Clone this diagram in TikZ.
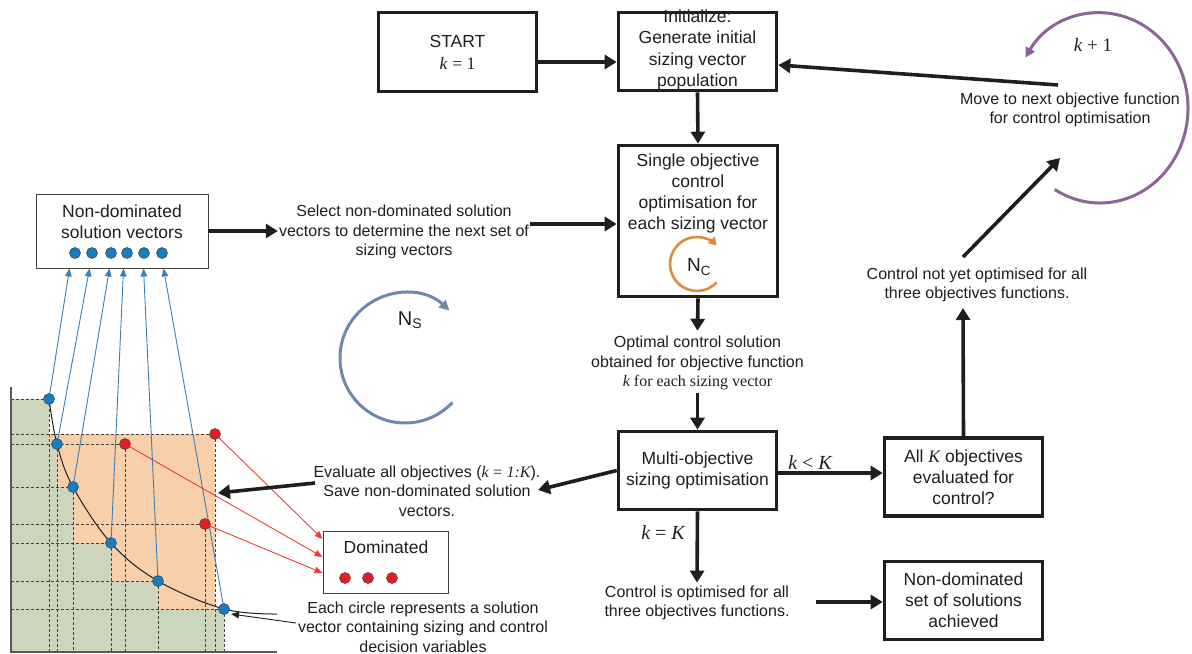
\documentclass[tikz,border=0pt]{standalone}
\usepackage{fontspec}
\setmainfont{Liberation Sans}
\newfontfamily\tnr{Liberation Serif}
\usetikzlibrary{arrows.meta,calc}
\newcommand\mk[1]{{\tnr\itshape #1}}
\newcommand\mr[1]{{\tnr #1}}
\definecolor{dotblue}{RGB}{20,125,195}
\definecolor{lineblue}{RGB}{60,125,180}
\definecolor{dotred}{RGB}{225,30,40}
\definecolor{linered}{RGB}{235,60,60}
\definecolor{greenfill}{RGB}{205,213,188}
\definecolor{orangefill}{RGB}{247,208,170}
\definecolor{loopor}{RGB}{218,140,60}
\definecolor{loopbl}{RGB}{110,135,170}
\definecolor{looppu}{RGB}{140,100,150}
\definecolor{ink}{RGB}{30,30,30}
\begin{document}
\begin{tikzpicture}[x=1bp,y=-1bp,
 box/.style={draw=ink,line width=3.6bp,minimum width=158bp,minimum height=78bp,inner sep=2bp,align=center,text=ink,font=\fontsize{17.5bp}{21bp}\selectfont},
 boxtext/.style={align=center,inner sep=0pt,text=ink,font=\fontsize{17.5bp}{21.5bp}\selectfont},
 thinbox/.style={draw=black!75,line width=0.9bp},
 note/.style={align=center,inner sep=1bp,text=ink,font=\fontsize{16bp}{19.5bp}\selectfont},
 arr/.style={draw=ink,line width=3.6bp,-{Triangle[length=12bp,width=14bp]}},
 barr/.style={draw=lineblue,line width=0.9bp,-{Triangle[length=8bp,width=6.5bp]}},
 rarr/.style={draw=linered,line width=0.9bp,-{Triangle[length=8bp,width=6.5bp]}},
 karr/.style={draw=ink,line width=0.9bp,-{Triangle[length=8bp,width=6.5bp]}},
 bdot/.style={circle,fill=dotblue,draw=black!70,line width=0.6bp,inner sep=0pt,minimum size=11bp},
 rdot/.style={circle,fill=dotred,draw=black!70,line width=0.6bp,inner sep=0pt,minimum size=11bp},
 gridline/.style={draw=black!75,dash pattern=on 3bp off 2bp,line width=0.8bp},
 looparr/.style={line width=3bp,-{Triangle[length=10bp,width=10bp]}},
 mathlbl/.style={inner sep=0pt,text=ink,font=\tnr\fontsize{20bp}{20bp}\selectfont},
]
\useasboundingbox (0,0) rectangle (1192,654);

% ---------- chart ----------
\fill[orangefill] (49,434) rectangle (215,609);
\foreach \x/\y in {49/399,57/444,73/487,111/543,158/581,224/609}
  \fill[greenfill] (11,\y) rectangle (\x,652);
\foreach \x/\y in {49/399,57/444,73/487,111/543,158/581,224/609,125/444,215/434,205/524}{
  \draw[gridline] (11,\y) -- (\x,\y);
  \draw[gridline] (\x,\y) -- (\x,652);
}
\draw[black!65,line width=1.3bp] (11,387) -- (11,652) -- (277,652);
\draw[ink,line width=1bp] plot[smooth,tension=0.6] coordinates {(49,399) (57,444) (73,487) (111,543) (158,581) (224,609) (277,614)};

% boxes of the chart side
\node[thinbox,minimum width=172bp,minimum height=74bp] (nv) at (122,231) {};
\node[boxtext,font=\fontsize{17.5bp}{21bp}\selectfont] (nvtext) at (122,221.5) {Non-dominated\\solution vectors};
\foreach \x [count=\i] in {75,92,111,127,144,162}
  \node[bdot] (v\i) at (\x,253) {};
\node[thinbox,minimum width=125bp,minimum height=62bp] (dom) at (385.5,562) {};
\node[boxtext] (domtext) at (386,547) {Dominated};
\foreach \x [count=\i] in {345,368,392}
  \node[rdot] (d\i) at (\x,578) {};

% arrows from points
\draw[barr] (49,399) -- ($(nv.south west)+(34,0)$);
\draw[barr] (57,444) -- ($(nv.south west)+(54,0)$);
\draw[barr] (73,487) -- ($(nv.south west)+(74,0)$);
\draw[barr] (111,543) -- ($(nv.south west)+(88,0)$);
\draw[barr] (158,581) -- ($(nv.south west)+(108,0)$);
\draw[barr] (224,609) -- ($(nv.south west)+(128,0)$);
\draw[rarr] (215,434) -- ($(dom.west)+(0,-23)$);
\draw[rarr] (125,444) -- ($(dom.west)+(0,-5)$);
\draw[rarr] (205,524) -- ($(dom.west)+(0,11)$);

% points
\node[bdot] (p1) at (49,399) {};
\node[bdot] (p2) at (57,444) {};
\node[bdot] (p3) at (73,487) {};
\node[bdot] (p4) at (111,543) {};
\node[bdot] (p5) at (158,581) {};
\node[bdot] (p6) at (224,609) {};
\node[rdot] (r1) at (125,444) {};
\node[rdot] (r2) at (215,434) {};
\node[rdot] (r3) at (205,524) {};

% ---------- flow boxes ----------
\node[box,minimum height=79bp] (start) at (457.5,52) {START\\[1bp]\mk{k} \mr{= 1}};
\node[box] (init) at (697.5,51.5) {};
\node[boxtext] (inittext) at (697.5,50) {Initialize:\\Generate initial\\sizing vector\\population};
\node[box,minimum width=159bp,minimum height=151bp] (single) at (698,221) {};
\node[boxtext,font=\fontsize{17.5bp}{21bp}\selectfont] (singletext) at (698,193) {Single objective\\control\\optimisation for\\each sizing vector};
\node[box] (multi) at (697.5,470.5) {Multi-objective\\sizing optimisation};
\node[box] (allk) at (963.5,477) {All \mk{K} objectives\\evaluated for\\control?};
\node[box] (nds) at (963.5,600.5) {Non-dominated\\set of solutions\\achieved};

% ---------- notes ----------
\node[note] (sel) at (404,232) {Select non-dominated solution\\vectors to determine the next set of\\sizing vectors};
\node[note] (opt) at (697.5,363) {Optimal control solution\\obtained for objective function\\{\tnr\mk{k} for each sizing vector}};
\node[note] (ev) at (427,491) {Evaluate all objectives (\mk{k} \mr{=} \mk{1:K}).\\Save non-dominated solution\\vectors.};
\node[note] (ec) at (423,627) {Each circle represents a solution\\vector containing sizing and control\\decision variables};
\node[note] (cio) at (697,603) {Control is optimised for all\\three objectives functions.};
\node[note] (cny) at (977,285) {Control not yet optimised for all\\three objectives functions.};
\node[note] (mv) at (1070,110) {Move to next objective function\\for control optimisation};

\node[mathlbl] (klt) at (810,463) {\itshape k \upshape< \itshape K};
\node[mathlbl] (keq) at (663,533) {\itshape k \upshape= \itshape K};
\node[mathlbl,font=\tnr\fontsize{19bp}{19bp}\selectfont] (kp1) at (1093,45) {\itshape k \upshape+ 1};

% loops
\node[inner sep=0pt,text=ink,font=\fontsize{20bp}{20bp}\selectfont] (ns) at (410,320) {N\textsubscript{S}};
\draw[looparr,draw=loopbl] (405,358) ++(43:65) arc[start angle=43,end angle=313,radius=65];
\node[inner sep=0pt,text=ink,font=\fontsize{19bp}{19bp}\selectfont] (nc) at (699,267) {N\textsubscript{C}};
\draw[draw=loopor,line width=2.6bp,-{Triangle[length=8bp,width=9bp]}] (697,264) ++(43:27) arc[start angle=43,end angle=317,radius=27];
\draw[looparr,draw=looppu] (1100,108) ++(121:88 and 95) arc[start angle=121,end angle=-148,x radius=88,y radius=95];

% ---------- connectors ----------
\coordinate (evtip) at (538,490);
\coordinate (evtail) at (315,483);
\coordinate (orng) at (218,493);
\coordinate (mvtail) at (1058,85);
\coordinate (cnytail) at (963,257);
\coordinate (mvtip) at (1060,158);
\coordinate (cnytip) at (963,308);
\coordinate (ciotail) at (816,602);
\coordinate (eclink) at (296,623);
\coordinate (p6tip) at (231,614);

\draw[arr] ([yshift=-10bp]start.east) -- ([yshift=-10bp]start.east -| init.west);
\draw[arr] (init.south) -- (single.north);
\draw[arr] (single.south) -- ([yshift=4bp]opt.north);
\draw[arr] ([yshift=-2bp]opt.south) -- (multi.north);
\draw[arr] ([yshift=-2.5bp]multi.east) -- ([yshift=-2.5bp]multi.east -| allk.west);
\draw[arr] (allk.north) -- (cnytip);
\draw[arr] (cnytail) -- (mvtip);
\draw[arr] (mvtail) -- ([yshift=-13.5bp]init.east);
\draw[arr] (multi.south) -- ([yshift=2bp]cio.north);
\draw[arr] (ciotail) -- (ciotail -| nds.west);
\draw[arr] (multi.west) -- (evtip);
\draw[arr] (evtail) -- (orng);
\draw[arr] (nv.east) -- (nv.east -| sel.west);
\draw[arr] ([yshift=8bp]sel.east) -- ([yshift=8bp]sel.east -| single.west);
\draw[karr] (eclink) -- (p6tip);
\end{tikzpicture}
\end{document}
